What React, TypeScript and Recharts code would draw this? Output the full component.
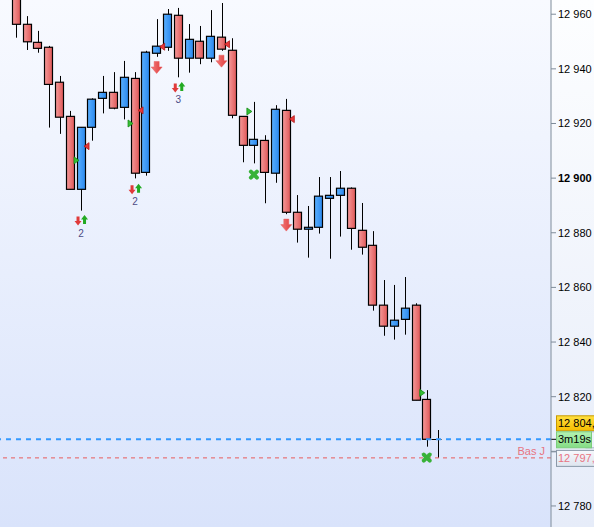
import React from "react";
import { ComposedChart, Bar, Scatter, XAxis, YAxis, ReferenceLine } from "recharts";

// bars, oldest first (bar 1 is cut off at the top)
const opens = [12968.0, 12956.3, 12949.7, 12947.9, 12935.1, 12922.6, 12895.9, 12918.6, 12929.2, 12931.4, 12925.9, 12936.5, 12902.1, 12945.7, 12947.9, 12959.6, 12943.9, 12950.1, 12943.9, 12951.6, 12946.8, 12922.6, 12912.0, 12913.8, 12901.8, 12924.8, 12887.5, 12881.3, 12882.0, 12892.6, 12893.7, 12896.3, 12880.9, 12875.4, 12853.5, 12845.8, 12848.3, 12853.5, 12819.0, 12804.4];
const highs = [12971.0, 12959.3, 12953.9, 12948.4, 12937.4, 12924.6, 12918.7, 12929.2, 12937.4, 12938.8, 12942.9, 12938.8, 12946.6, 12958.2, 12961.9, 12962.3, 12956.4, 12955.7, 12961.5, 12964.1, 12951.2, 12922.7, 12927.9, 12915.7, 12926.7, 12929.0, 12893.8, 12889.8, 12900.4, 12900.4, 12902.6, 12896.6, 12890.9, 12880.6, 12862.7, 12860.9, 12863.8, 12854.2, 12822.4, 12807.8];
const lows = [12951.4, 12946.9, 12945.9, 12918.5, 12916.2, 12895.8, 12888.1, 12913.7, 12923.7, 12925.2, 12921.5, 12899.9, 12900.9, 12944.4, 12946.6, 12936.9, 12938.6, 12941.7, 12942.4, 12946.6, 12921.9, 12905.8, 12905.4, 12890.8, 12898.3, 12886.8, 12876.4, 12870.9, 12879.7, 12870.5, 12878.6, 12873.8, 12872.0, 12851.5, 12842.3, 12840.9, 12842.7, 12818.7, 12801.7, 12797.6];
const closes = [12956.3, 12949.9, 12947.5, 12934.3, 12922.3, 12895.9, 12918.6, 12928.9, 12931.4, 12925.6, 12936.9, 12901.8, 12946.1, 12948.3, 12960.0, 12943.9, 12950.8, 12943.9, 12951.9, 12947.2, 12923.0, 12912.0, 12914.2, 12902.1, 12925.2, 12887.5, 12881.3, 12882.0, 12893.4, 12893.7, 12896.3, 12881.6, 12874.7, 12853.5, 12845.8, 12848.0, 12852.4, 12818.7, 12804.4, 12804.4];

// signals, by bar number
const entryMarks = [{ bar: 7, price: 12906.5 }, { bar: 12, price: 12920.0 }, { bar: 23, price: 12924.4 }, { bar: 39, price: 12821.4 }];
const exitMarks = [{ bar: 7, price: 12911.7 }, { bar: 12, price: 12924.8 }, { bar: 14, price: 12948.1 }, { bar: 20, price: 12949.0 }, { bar: 26, price: 12921.6 }];
const sellArrows = [{ bar: 14, price: 12940.5 }, { bar: 20, price: 12942.8 }, { bar: 26, price: 12882.8 }];
const signalPairs = [{ bar: 7, price: 12884.3, count: "2" }, { bar: 12, price: 12895.7, count: "2" }, { bar: 16, price: 12933.0, count: "3" }];
const stopMarks = [{ bar: 23, price: 12901.3 }, { bar: 39, price: 12797.7 }];

const yTicks = [12780, 12800, 12820, 12840, 12860, 12880, 12900, 12920, 12940, 12960];
const hiddenTickLabels = [12800];
const lastPrice = 12804.4;
const dayLow = 12797.6;
const lastPriceText = "12 804,";
const dayLowText = "12 797,";
const timerText = "3m19s";
const dayLowName = "Bas J";

const leadingGap = 1;
const trailingGap = 10;

const FONT = "'Liberation Sans', Arial, sans-serif";

const data = Array.from({ length: leadingGap + opens.length + trailingGap }, (_, slot) => {
  const i = slot - leadingGap;
  const has = i >= 0 && i < opens.length;
  const find = (arr: any[]) => arr.find((m) => m.bar === slot);
  const pair = find(signalPairs);
  return {
    slot,
    open: has ? opens[i] : null,
    high: has ? highs[i] : null,
    low: has ? lows[i] : null,
    close: has ? closes[i] : null,
    entry: find(entryMarks)?.price ?? null,
    exit: find(exitMarks)?.price ?? null,
    sell: find(sellArrows)?.price ?? null,
    pair: pair ? pair.price : null,
    pairCount: pair ? pair.count : null,
    stop: find(stopMarks)?.price ?? null,
  };
});

const fmt = (v: number) => String(v).replace(/\B(?=(\d{3})+(?!\d))/g, " ");

function Candle(props: any) {
  const { x, y, width, height, payload } = props;
  if (!payload || payload.open == null || !isFinite(y)) return <g />;
  const top = Math.min(y, y + height);
  const h = Math.abs(height);
  const span = payload.high - payload.low;
  const ppu = span > 0 ? h / span : 0;
  const yOf = (v: number) => top + (payload.high - v) * ppu;
  const left = Math.round(x) + 0.5;
  const mid = Math.round(x + width / 2) + 0.5;
  const yo = yOf(payload.open);
  const yc = yOf(payload.close);
  const up = payload.close > payload.open;
  const flat = payload.close === payload.open;
  return (
    <g>
      <line x1={mid} x2={mid} y1={top} y2={top + h} stroke="#000" strokeWidth={1} />
      {flat ? (
        <line x1={left - 2} x2={left + width - 1} y1={Math.round(yo) + 0.5} y2={Math.round(yo) + 0.5} stroke="#000" strokeWidth={1} />
      ) : (
        <rect
          x={left}
          y={Math.min(yo, yc)}
          width={width - 1}
          height={Math.max(1, Math.abs(yc - yo))}
          fill={up ? "url(#upFill)" : "url(#downFill)"}
          stroke="#000"
          strokeWidth={1.2}
        />
      )}
    </g>
  );
}

function EntryShape(props: any) {
  const { cx, cy, payload } = props;
  if (payload?.entry == null || !isFinite(cy)) return <g />;
  const tip = cx - 2;
  return <path d={`M${tip - 5},${cy - 3.5} L${tip},${cy} L${tip - 5},${cy + 3.5} Z`} fill="#35c035" stroke="#138a13" strokeWidth={0.8} />;
}

function ExitShape(props: any) {
  const { cx, cy, payload } = props;
  if (payload?.exit == null || !isFinite(cy)) return <g />;
  const tip = cx + 3;
  return <path d={`M${tip + 5},${cy - 3.5} L${tip},${cy} L${tip + 5},${cy + 3.5} Z`} fill="#e83838" stroke="#b01818" strokeWidth={0.8} />;
}

function SellShape(props: any) {
  const { cx, cy, payload } = props;
  if (payload?.sell == null || !isFinite(cy)) return <g />;
  const d = `M${cx - 2.5},${cy - 6} L${cx + 2.5},${cy - 6} L${cx + 2.5},${cy - 0.5} L${cx + 5.5},${cy - 0.5} L${cx},${cy + 6} L${cx - 5.5},${cy - 0.5} L${cx - 2.5},${cy - 0.5} Z`;
  return <path d={d} fill="url(#sellFill)" stroke="#e85a5a" strokeWidth={0.5} />;
}

function PairShape(props: any) {
  const { cx, cy, payload } = props;
  if (payload?.pair == null || !isFinite(cy)) return <g />;
  const rx = cx - 3;
  const gx = cx + 3.5;
  const gy = cy - 1.5;
  const down = `M${rx - 1.5},${cy - 4.5} L${rx + 1.5},${cy - 4.5} L${rx + 1.5},${cy} L${rx + 3.5},${cy} L${rx},${cy + 4.5} L${rx - 3.5},${cy} L${rx - 1.5},${cy} Z`;
  const up = `M${gx - 1.5},${gy + 4.5} L${gx + 1.5},${gy + 4.5} L${gx + 1.5},${gy} L${gx + 3.5},${gy} L${gx},${gy - 4.5} L${gx - 3.5},${gy} L${gx - 1.5},${gy} Z`;
  return (
    <g>
      <path d={down} fill="#e03a3a" />
      <path d={up} fill="#22aa22" />
      <text x={cx} y={cy + 15.5} textAnchor="middle" fontSize={10} fontFamily={FONT} fill="#4c4c86">
        {payload.pairCount}
      </text>
    </g>
  );
}

function StopShape(props: any) {
  const { cx, cy, payload } = props;
  if (payload?.stop == null || !isFinite(cy)) return <g />;
  return (
    <g stroke="#38b238" strokeWidth={4} strokeLinecap="round">
      <line x1={cx - 3} y1={cy - 3} x2={cx + 3} y2={cy + 3} />
      <line x1={cx - 3} y1={cy + 3} x2={cx + 3} y2={cy - 3} />
    </g>
  );
}

function PriceTick(props: any) {
  const { x, y, payload } = props;
  const v = payload.value;
  if (hiddenTickLabels.includes(v)) return <g />;
  return (
    <text x={x} y={y + 4} textAnchor="start" fontSize={11} fontFamily={FONT} fill="#000" fontWeight={v % 100 === 0 ? "bold" : "normal"}>
      {fmt(v)}
    </text>
  );
}

function LastPriceBoxes(props: any) {
  const vb = props.viewBox;
  if (!vb) return null;
  const bx = vb.x + vb.width + 5;
  const y = vb.y;
  return (
    <g fontFamily={FONT} fontSize={11}>
      <line x1={vb.x + vb.width} x2={bx} y1={y} y2={y} stroke="#000" />
      <rect x={bx + 0.5} y={y - 23.5} width={45} height={15} fill="url(#lastFill)" stroke="#c89a00" />
      <text x={bx + 2} y={y - 12} fill="#000">{lastPriceText}</text>
      <rect x={bx + 30} y={y - 7.5} width={20} height={16} fill="#eef2fb" stroke="#a8b4c8" />
      <rect x={bx + 0.5} y={y - 7.5} width={35} height={16} fill="url(#timerFill)" stroke="#7ccc7c" />
      <text x={bx + 2} y={y + 4} fill="#000">{timerText}</text>
    </g>
  );
}

function DayLowBoxes(props: any) {
  const vb = props.viewBox;
  if (!vb) return null;
  const bx = vb.x + vb.width + 5;
  const y = vb.y;
  return (
    <g fontFamily={FONT} fontSize={11}>
      <text x={vb.x + vb.width - 6} y={y - 3} textAnchor="end" fill="#e87482">{dayLowName}</text>
      <line x1={vb.x + vb.width} x2={bx} y1={y - 6} y2={y - 6} stroke="#8a98a8" />
      <rect x={bx + 0.5} y={y - 7.5} width={45} height={16} fill="url(#lowFill)" stroke="#8a98a8" />
      <text x={bx + 2} y={y + 4} fill="#e87482">{dayLowText}</text>
    </g>
  );
}

export default function App() {
  return (
    <div style={{ position: "absolute", left: 0, top: 0, width: 594, height: 527 }}>
      <div style={{ position: "absolute", left: 0, top: 0, width: 551, height: 527, background: "linear-gradient(#f8faff, #d9e3fb)" }} />
      <div style={{ position: "absolute", left: 551, top: 0, width: 43, height: 527, background: "linear-gradient(#fdfeff, #e6ecf9)" }} />
      <ComposedChart width={594} height={527} data={data} margin={{ top: 0, right: 0, bottom: 0, left: 0 }} style={{ position: "absolute", left: 0, top: 0 }}>
        <defs>
          <linearGradient id="downFill" x1="0" y1="0" x2="1" y2="0">
            <stop offset="0%" stopColor="#f59a9a" />
            <stop offset="100%" stopColor="#e05858" />
          </linearGradient>
          <linearGradient id="upFill" x1="0" y1="0" x2="1" y2="0">
            <stop offset="0%" stopColor="#5ab0ff" />
            <stop offset="100%" stopColor="#2a88ee" />
          </linearGradient>
          <linearGradient id="sellFill" x1="0" y1="0" x2="1" y2="0">
            <stop offset="0%" stopColor="#f27a7a" />
            <stop offset="100%" stopColor="#e03c3c" />
          </linearGradient>
          <linearGradient id="lastFill" x1="0" y1="0" x2="0" y2="1">
            <stop offset="0%" stopColor="#ffe040" />
            <stop offset="100%" stopColor="#f5bc00" />
          </linearGradient>
          <linearGradient id="timerFill" x1="0" y1="0" x2="0" y2="1">
            <stop offset="0%" stopColor="#b4f2b4" />
            <stop offset="100%" stopColor="#84dc84" />
          </linearGradient>
          <linearGradient id="lowFill" x1="0" y1="0" x2="0" y2="1">
            <stop offset="0%" stopColor="#f6f8fc" />
            <stop offset="100%" stopColor="#dfe5ef" />
          </linearGradient>
        </defs>
        <XAxis dataKey="slot" type="category" hide />
        <YAxis
          orientation="right"
          width={43}
          domain={[12772.3, 12965.2]}
          allowDataOverflow
          ticks={yTicks}
          interval={0}
          tickSize={5}
          tickMargin={2}
          axisLine={{ stroke: "#7f8c9a" }}
          tickLine={{ stroke: "#7f8c9a" }}
          tick={<PriceTick />}
        />
        <Bar dataKey={(d: any) => (d.low == null ? null : [d.low, d.high])} barSize={9} shape={<Candle />} isAnimationActive={false} />
        <ReferenceLine y={dayLow} stroke="#e85c5c" strokeWidth={1} strokeDasharray="4 4" label={(p: any) => <DayLowBoxes {...p} />} />
        <ReferenceLine y={lastPrice} stroke="#3399ff" strokeWidth={2} strokeDasharray="5 5" label={(p: any) => <LastPriceBoxes {...p} />} />
        <Scatter dataKey="entry" shape={<EntryShape />} isAnimationActive={false} />
        <Scatter dataKey="exit" shape={<ExitShape />} isAnimationActive={false} />
        <Scatter dataKey="sell" shape={<SellShape />} isAnimationActive={false} />
        <Scatter dataKey="pair" shape={<PairShape />} isAnimationActive={false} />
        <Scatter dataKey="stop" shape={<StopShape />} isAnimationActive={false} />
      </ComposedChart>
    </div>
  );
}
